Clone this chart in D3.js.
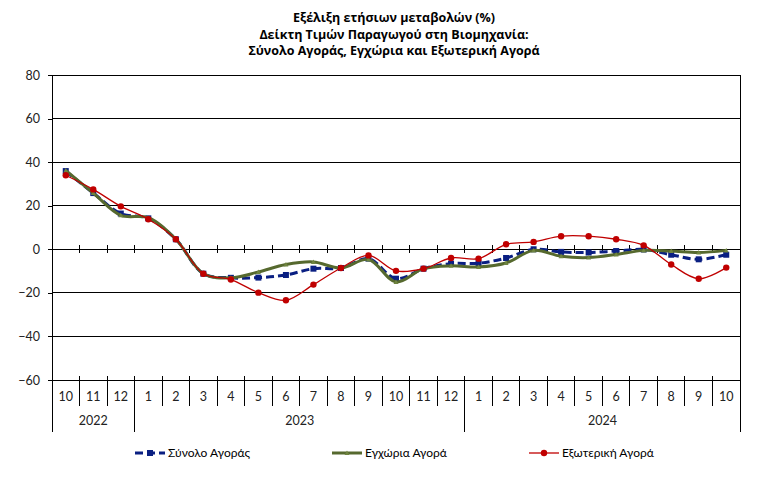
<!DOCTYPE html>
<html><head><meta charset="utf-8">
<script src="https://cdn.jsdelivr.net/npm/d3@7/dist/d3.min.js"></script>
<style>
html,body{margin:0;padding:0;background:#fff;}
svg{display:block;font-family:Lato,"Open Sans",sans-serif;}
</style></head>
<body><svg id="c" width="779" height="485"></svg>
<script>
const titleLines = ["Εξέλιξη ετήσιων μεταβολών (%)","Δείκτη Τιμών Παραγωγού στη Βιομηχανία:","Σύνολο Αγοράς, Εγχώρια και Εξωτερική Αγορά"];
const months = ["10","11","12","1","2","3","4","5","6","7","8","9","10","11","12","1","2","3","4","5","6","7","8","9","10"];
const yearLabels = ["2022","2023","2024"];
const yearSpans = [3,12,10];
const yTicks = [80,60,40,20,0,-20,-40,-60];
const seriesNames = ["Σύνολο Αγοράς","Εγχώρια Αγορά","Εξωτερική Αγορά"];
const total = [35.9,25.8,16.4,14.2,4.6,-11.2,-13.1,-13.0,-11.8,-8.9,-8.6,-4.3,-13.5,-8.9,-6.6,-6.4,-4.0,0.0,-1.2,-1.5,-0.8,-0.1,-2.5,-4.6,-2.5];
const domestic = [36.2,25.8,15.6,14.5,4.6,-11.2,-13.1,-10.4,-7.0,-5.8,-8.6,-4.7,-15.0,-8.9,-7.6,-8.1,-6.3,-0.5,-3.2,-3.8,-2.4,-0.5,-0.8,-1.5,-0.5];
const external = [34.0,27.5,19.7,13.8,4.6,-11.2,-13.9,-19.9,-23.4,-16.2,-8.6,-2.8,-9.9,-8.9,-4.0,-4.3,2.3,3.4,6.0,6.0,4.6,1.8,-7.0,-13.5,-8.4];

const svg = d3.select("#c");
const L = 52, R = 740, T = 75, B = 380;
const x = d3.scaleBand().domain(d3.range(months.length)).range([L, R]).padding(0);
const y = d3.scaleLinear().domain([-60, 80]).range([B, T]);
const bw = x.bandwidth();
const cx = i => x(i) + bw / 2;

// title
svg.append("g").selectAll("text").data(titleLines).join("text")
  .attr("x", 394).attr("y", (d, i) => 22 + i * 16.5)
  .attr("text-anchor", "middle").attr("font-weight", "bold").attr("font-size", 12.5)
  .attr("font-family", "'Open Sans',sans-serif")
  .attr("fill", "#000").text(d => d);

// gridlines
svg.append("g").selectAll("line").data(yTicks).join("line")
  .attr("x1", L).attr("x2", R).attr("y1", d => y(d)).attr("y2", d => y(d))
  .attr("stroke", "#000").attr("stroke-width", 1).attr("shape-rendering", "crispEdges");

// y axis
const ya = svg.append("g").attr("transform", `translate(${L},0)`)
  .call(d3.axisLeft(y).tickValues(yTicks).tickSize(4).tickPadding(8));
ya.select(".domain").remove();
ya.selectAll("line").attr("stroke", "#000").attr("shape-rendering", "crispEdges");
ya.selectAll("text").attr("font-size", 12.5).attr("font-family", "Lato,'Open Sans',sans-serif").attr("fill", "#222");

// frame left & right verticals (extend into category rows)
const bottomY = 432, catRowY = 406;
svg.append("line").attr("x1", L).attr("x2", L).attr("y1", T).attr("y2", bottomY).attr("stroke", "#000").attr("shape-rendering", "crispEdges");
svg.append("line").attr("x1", R).attr("x2", R).attr("y1", T).attr("y2", bottomY).attr("stroke", "#000").attr("shape-rendering", "crispEdges");

// category boundaries
const bounds = d3.range(1, months.length);
svg.append("g").selectAll("line").data(bounds).join("line")
  .attr("x1", d => x(d)).attr("x2", d => x(d)).attr("y1", y(0) - 4).attr("y2", y(0) + 4)
  .attr("stroke", "#000").attr("shape-rendering", "crispEdges");
const yearBounds = d3.cumsum(yearSpans).slice(0, -1);
svg.append("g").selectAll("line").data(bounds).join("line")
  .attr("x1", d => x(d)).attr("x2", d => x(d)).attr("y1", B - 4)
  .attr("y2", d => yearBounds.includes(d) ? bottomY : catRowY)
  .attr("stroke", "#000").attr("shape-rendering", "crispEdges");

// category labels via axis
const xa = svg.append("g").attr("transform", `translate(0,${B})`)
  .call(d3.axisBottom(x).tickSize(0).tickPadding(12).tickFormat(i => months[i]));
xa.select(".domain").remove();
xa.selectAll("text").attr("font-size", 12.5).attr("font-family", "Lato,'Open Sans',sans-serif").attr("fill", "#222");

// year labels
const starts = [0, ...yearBounds];
svg.append("g").selectAll("text").data(yearLabels).join("text")
  .attr("x", (d, i) => (x(starts[i]) + (starts[i] + yearSpans[i] >= months.length ? R : x(starts[i] + yearSpans[i]))) / 2)
  .attr("y", 425).attr("text-anchor", "middle").attr("font-size", 12.5).attr("fill", "#222").text(d => d);

// series
const line = d3.line().x((d, i) => cx(i)).y(d => y(d)).curve(d3.curveCatmullRom.alpha(0.5));
const styles = [
  {data: total, color: "#0a1f82", width: 3, dash: "8,4", marker: "square"},
  {data: domestic, color: "#56692e", width: 3, dash: null, marker: "tri"},
  {data: external, color: "#c00000", width: 1.3, dash: null, marker: "circle"}
];
function drawMarker(g, m, color) {
  if (m === "square") g.append("rect").attr("x", -3).attr("y", -3).attr("width", 6).attr("height", 6).attr("fill", color);
  else if (m === "tri") g.append("path").attr("d", "M0,-2.5L2.5,2L-2.5,2Z").attr("fill", "#6f8440");
  else g.append("circle").attr("r", 3.2).attr("fill", color);
}
styles.forEach(s => {
  svg.append("path").datum(s.data).attr("d", line).attr("fill", "none")
    .attr("stroke", s.color).attr("stroke-width", s.width)
    .attr("stroke-dasharray", s.dash).attr("stroke-linejoin", "round");
  s.data.forEach((v, i) => {
    const g = svg.append("g").attr("transform", `translate(${cx(i)},${y(v)})`);
    drawMarker(g, s.marker, s.color);
  });
});

// legend
const legX = [135, 332, 529];
styles.forEach((s, i) => {
  const g = svg.append("g").attr("transform", `translate(${legX[i]},453)`);
  g.append("line").attr("x1", 0).attr("x2", 30).attr("stroke", s.color).attr("stroke-width", s.width).attr("stroke-dasharray", s.dash);
  const m = g.append("g").attr("transform", "translate(15,0)");
  drawMarker(m, s.marker, s.color);
  g.append("text").attr("x", 33).attr("y", 4).attr("font-size", 12).attr("fill", "#000").text(seriesNames[i]);
});
</script></body></html>
